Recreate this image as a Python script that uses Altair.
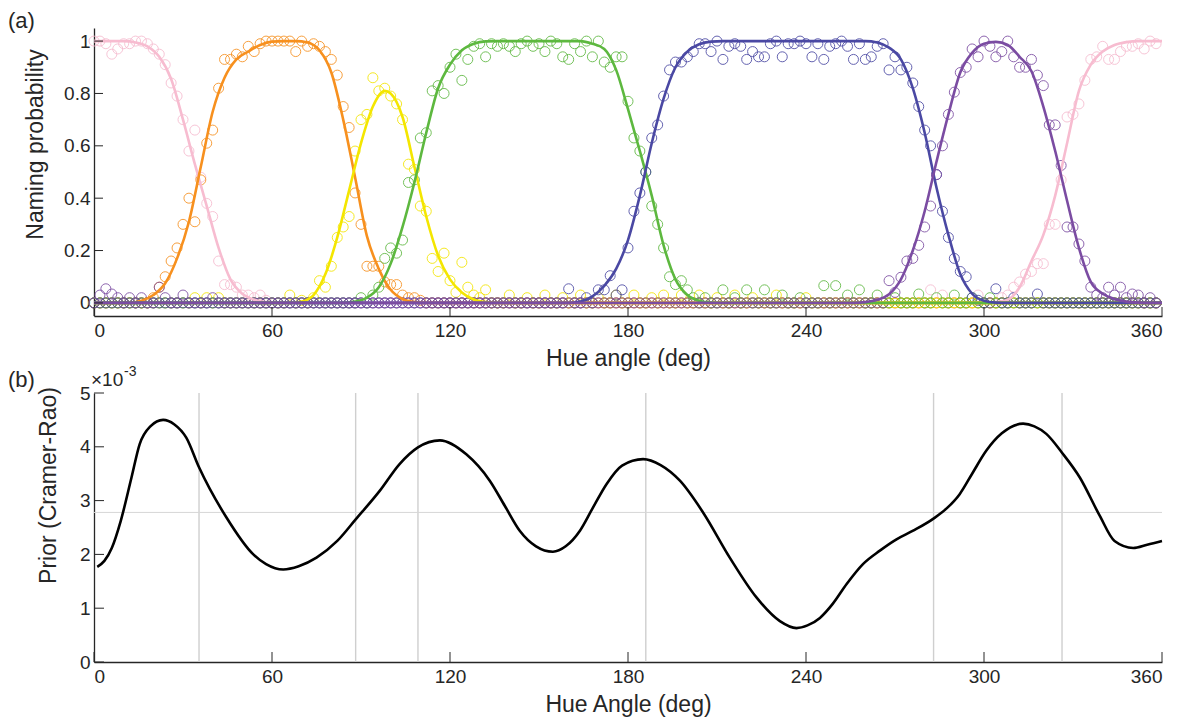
import altair as alt
import pandas as pd

# ---------------- data ----------------
HUE_TICKS = [0, 60, 120, 180, 240, 300, 360]
PROB_TICKS = [0, 0.2, 0.4, 0.6, 0.8, 1]
PRIOR_TICKS = [0, 1, 2, 3, 4, 5]

CATEGORIES = ["pink", "orange", "yellow", "green", "blue", "purple"]
COLORS = ["#F7BCD0", "#F7901E", "#F4E600", "#5DB83F", "#4A48A3", "#7B4CA2"]

# hue samples of the naming experiment (every 2 deg); unlisted samples read as 0
SAMPLE_HUES = list(range(0, 360, 2))

PINK_PTS = {0: 1.0, 2: 1.0, 4: 0.99, 6: 0.95, 8: 0.97, 10: 0.99, 12: 0.99, 14: 1.0, 16: 1.0,
            18: 0.99, 20: 0.97, 22: 0.95, 24: 0.91, 26: 0.84, 28: 0.79, 30: 0.70, 32: 0.58,
            34: 0.66, 36: 0.48, 38: 0.38, 40: 0.33, 42: 0.16, 44: 0.07, 46: 0.07, 48: 0.06,
            50: 0.03, 52: 0.03, 54: 0.02, 56: 0.03, 58: 0.01, 282: 0.05, 286: 0.03, 298: 0.03,
            306: 0.02, 308: 0.03, 310: 0.06, 312: 0.08, 314: 0.11, 316: 0.12, 318: 0.15,
            320: 0.15, 322: 0.30, 324: 0.30, 326: 0.47, 328: 0.71, 330: 0.72, 332: 0.76,
            334: 0.85, 336: 0.93, 338: 0.94, 340: 0.98, 342: 0.93, 344: 0.93, 346: 0.96,
            348: 0.98, 350: 0.98, 352: 0.99, 354: 0.97, 356: 1.0, 358: 0.99}
ORANGE_PTS = {20: 0.02, 22: 0.06, 24: 0.10, 26: 0.16, 28: 0.21, 30: 0.30, 32: 0.40, 34: 0.31,
              36: 0.47, 38: 0.61, 40: 0.66, 42: 0.82, 44: 0.93, 46: 0.93, 48: 0.95, 50: 0.94,
              52: 0.98, 54: 0.96, 56: 0.99, 58: 1.0, 60: 1.0, 62: 1.0, 64: 1.0, 66: 1.0,
              68: 0.96, 70: 1.0, 72: 0.98, 74: 0.99, 76: 0.98, 78: 0.96, 80: 0.93, 82: 0.87,
              84: 0.75, 86: 0.67, 88: 0.42, 90: 0.30, 92: 0.14, 94: 0.14, 96: 0.14, 98: 0.08,
              100: 0.07, 102: 0.07, 104: 0.03, 106: 0.02, 108: 0.02, 110: 0.01}
YELLOW_PTS = {34: 0.02, 38: 0.02, 42: 0.02, 66: 0.03, 70: 0.01, 74: 0.02, 76: 0.085, 78: 0.06,
              80: 0.14, 82: 0.25, 84: 0.29, 86: 0.33, 88: 0.58, 90: 0.70, 92: 0.72, 94: 0.86,
              96: 0.81, 98: 0.82, 100: 0.79, 102: 0.76, 104: 0.70, 106: 0.53, 108: 0.51,
              110: 0.37, 112: 0.35, 114: 0.17, 116: 0.12, 118: 0.19, 120: 0.085, 122: 0.04,
              124: 0.155, 126: 0.06, 128: 0.03, 130: 0.02, 132: 0.05, 140: 0.03, 146: 0.02,
              152: 0.03, 158: 0.02, 164: 0.03, 170: 0.02, 176: 0.03, 182: 0.03, 188: 0.02,
              192: 0.03, 198: 0.03, 204: 0.03, 210: 0.02, 216: 0.03, 222: 0.02, 230: 0.03,
              240: 0.02}
GREEN_PTS = {90: 0.02, 94: 0.03, 96: 0.06, 98: 0.17, 100: 0.21, 102: 0.19, 104: 0.24, 106: 0.46,
             108: 0.47, 110: 0.63, 112: 0.65, 114: 0.81, 116: 0.83, 118: 0.80, 120: 0.90,
             122: 0.95, 124: 0.85, 126: 0.93, 128: 0.98, 130: 0.99, 132: 0.94, 134: 0.99,
             136: 0.98, 138: 0.99, 140: 0.98, 142: 0.96, 144: 0.99, 146: 1.0, 148: 0.98,
             150: 0.99, 152: 0.96, 154: 1.0, 156: 0.99, 158: 0.94, 160: 0.93, 162: 0.99,
             164: 0.96, 166: 1.0, 168: 0.94, 170: 1.0, 172: 0.92, 174: 0.90, 176: 0.94,
             178: 0.94, 180: 0.77, 182: 0.63, 184: 0.58, 186: 0.50, 188: 0.37, 190: 0.30,
             192: 0.21, 194: 0.10, 196: 0.07, 198: 0.085, 200: 0.05, 202: 0.02, 206: 0.02,
             212: 0.05, 216: 0.02, 220: 0.05, 226: 0.05, 232: 0.03, 238: 0.02, 246: 0.066,
             250: 0.066, 254: 0.03, 258: 0.05, 264: 0.03, 270: 0.02, 278: 0.034, 284: 0.02,
             290: 0.03, 296: 0.02, 302: 0.02}
BLUE_PTS = {160: 0.054, 166: 0.02, 170: 0.05, 172: 0.05, 174: 0.104, 176: 0.03, 178: 0.05,
            180: 0.21, 182: 0.35, 184: 0.42, 186: 0.50, 188: 0.63, 190: 0.68, 192: 0.79,
            194: 0.89, 196: 0.92, 198: 0.92, 200: 0.94, 202: 0.96, 204: 0.99, 206: 0.99,
            208: 0.96, 210: 1.0, 212: 0.93, 214: 0.98, 216: 0.99, 218: 0.98, 220: 0.93,
            222: 0.96, 224: 0.94, 226: 0.94, 228: 0.99, 230: 1.0, 232: 0.94, 234: 0.99,
            236: 0.99, 238: 1.0, 240: 0.99, 242: 0.94, 244: 0.99, 246: 0.93, 248: 0.98,
            250: 0.99, 252: 1.0, 254: 0.98, 256: 0.93, 258: 0.99, 260: 0.93, 262: 0.94,
            264: 0.98, 266: 0.99, 268: 0.89, 270: 0.94, 272: 0.89, 274: 0.90, 276: 0.84,
            278: 0.75, 280: 0.66, 282: 0.60, 284: 0.49, 286: 0.35, 288: 0.25, 290: 0.17,
            292: 0.12, 294: 0.10, 296: 0.02, 298: 0.01, 304: 0.054, 310: 0.02, 318: 0.034}
PURPLE_PTS = {2: 0.03, 4: 0.054, 6: 0.034, 8: 0.02, 12: 0.02, 16: 0.02, 22: 0.06, 24: 0.02,
              30: 0.03, 40: 0.02, 268: 0.085, 270: 0.04, 272: 0.098, 274: 0.16, 276: 0.17,
              278: 0.22, 280: 0.29, 282: 0.37, 284: 0.49, 286: 0.60, 288: 0.72, 290: 0.805,
              292: 0.88, 294: 0.90, 296: 0.97, 298: 0.94, 300: 1.0, 302: 0.98, 304: 0.94,
              306: 0.96, 308: 1.0, 310: 0.94, 312: 0.90, 314: 0.90, 316: 0.93, 318: 0.87,
              320: 0.83, 322: 0.68, 324: 0.68, 326: 0.525, 328: 0.29, 330: 0.29, 332: 0.225,
              334: 0.16, 336: 0.06, 338: 0.03, 340: 0.02, 342: 0.06, 344: 0.03, 346: 0.06,
              348: 0.02, 350: 0.034, 352: 0.03, 356: 0.02}

# fitted naming curves (hue: probability)
PINK_FIT = {0: 1.0, 10: 1.0, 14: 0.995, 18: 0.98, 22: 0.94, 26: 0.855, 30: 0.70, 34: 0.53,
            38: 0.37, 42: 0.21, 46: 0.09, 50: 0.035, 54: 0.012, 58: 0.003, 62: 0.0, 300: 0.0,
            304: 0.003, 308: 0.012, 312: 0.06, 316: 0.16, 320: 0.26, 324: 0.41, 328: 0.61,
            332: 0.81, 336: 0.91, 340: 0.96, 344: 0.985, 348: 0.996, 352: 1.0, 360: 1.0}
ORANGE_FIT = {0: 0.0, 12: 0.0, 16: 0.008, 20: 0.03, 24: 0.075, 28: 0.17, 32: 0.31, 36: 0.52,
              40: 0.73, 44: 0.86, 48: 0.93, 52: 0.96, 56: 0.985, 60: 0.998, 64: 1.0, 68: 1.0,
              72: 0.995, 76: 0.965, 80: 0.88, 84: 0.70, 88: 0.48, 92: 0.255, 96: 0.13,
              100: 0.05, 104: 0.015, 108: 0.003, 112: 0.0, 360: 0.0}
YELLOW_FIT = {0: 0.0, 66: 0.0, 70: 0.005, 74: 0.03, 78: 0.11, 82: 0.25, 86: 0.43, 90: 0.61,
              94: 0.75, 98: 0.81, 100: 0.80, 104: 0.71, 108: 0.52, 112: 0.33, 116: 0.18,
              120: 0.09, 124: 0.04, 128: 0.013, 132: 0.003, 136: 0.0, 360: 0.0}
GREEN_FIT = {0: 0.0, 84: 0.0, 88: 0.005, 92: 0.02, 96: 0.06, 100: 0.15, 104: 0.29, 108: 0.46,
             112: 0.65, 116: 0.82, 120: 0.91, 124: 0.965, 128: 0.99, 132: 0.999, 136: 1.0,
             164: 1.0, 168: 0.99, 172: 0.97, 176: 0.89, 180: 0.74, 184: 0.58, 188: 0.41,
             192: 0.22, 196: 0.09, 200: 0.03, 204: 0.008, 208: 0.001, 212: 0.0, 360: 0.0}
BLUE_FIT = {0: 0.0, 160: 0.0, 164: 0.005, 168: 0.025, 172: 0.065, 176: 0.13, 180: 0.24,
            184: 0.41, 188: 0.61, 192: 0.78, 196: 0.90, 200: 0.96, 204: 0.988, 208: 0.998,
            212: 1.0, 260: 1.0, 264: 0.995, 268: 0.975, 272: 0.93, 276: 0.82, 280: 0.65,
            284: 0.44, 288: 0.26, 292: 0.11, 296: 0.035, 300: 0.008, 304: 0.001, 308: 0.0,
            360: 0.0}
PURPLE_FIT = {0: 0.0, 256: 0.0, 260: 0.003, 264: 0.012, 268: 0.033, 272: 0.09, 276: 0.20,
              280: 0.35, 284: 0.54, 288: 0.72, 292: 0.88, 296: 0.955, 300: 0.99, 304: 0.997,
              308: 0.985, 312: 0.94, 316: 0.885, 320: 0.75, 324: 0.58, 328: 0.39, 332: 0.21,
              336: 0.08, 340: 0.035, 344: 0.015, 348: 0.005, 352: 0.001, 356: 0.0, 360: 0.0}

SCATTER = [PINK_PTS, ORANGE_PTS, YELLOW_PTS, GREEN_PTS, BLUE_PTS, PURPLE_PTS]
FITS = [PINK_FIT, ORANGE_FIT, YELLOW_FIT, GREEN_FIT, BLUE_FIT, PURPLE_FIT]

# panel (b): prior (values in units of 1e-3)
PRIOR_HUE = [1.1, 3.5, 6.0, 9.0, 12.6, 15.4, 19.0, 23.3, 27.0, 31.1, 35.4, 44.6, 53.7, 58.0,
             63.8, 69.0, 75.0, 82.0, 88.2, 96.3, 103.0, 109.2, 116.6, 125.5, 133.4, 138.5,
             143.5, 149.0, 154.7, 159.0, 163.8, 168.0, 172.8, 178.0, 185.1, 191.0, 197.5,
             205.3, 214.3, 223.3, 231.2, 236.8, 240.5, 244.7, 249.0, 253.7, 259.2, 264.9,
             270.5, 276.1, 283.1, 287.5, 291.8, 296.0, 300.8, 306.0, 313.2, 317.0, 321.0,
             326.3, 332.3, 339.0, 344.0, 350.3, 355.0, 360.0]
PRIOR_VAL = [1.77, 1.88, 2.12, 2.62, 3.42, 4.05, 4.38, 4.50, 4.42, 4.17, 3.62, 2.69, 2.00, 1.82,
             1.72, 1.78, 1.94, 2.25, 2.65, 3.18, 3.68, 3.99, 4.12, 3.86, 3.37, 2.90,
             2.44, 2.15, 2.05, 2.15, 2.44, 2.85, 3.31, 3.65, 3.77, 3.66, 3.37,
             2.78, 1.94, 1.20, 0.76, 0.63, 0.68, 0.82, 1.08, 1.45, 1.82, 2.07,
             2.28, 2.44, 2.67, 2.86, 3.12, 3.50, 3.93, 4.25, 4.43, 4.38, 4.24,
             3.89, 3.43, 2.72, 2.25, 2.12, 2.18, 2.25]
BOUNDARIES = [35.4, 88.2, 109.2, 186.0, 283.0, 326.3]
UNIFORM = [2.78]

# ---------------- layout / style ----------------
W = 1068
HA = 288
HB = 269
INK = "#262626"
FONT = "Liberation Sans"

x_scale = alt.Scale(domain=[0, 360], nice=False, zero=False)
ya_scale = alt.Scale(domain=[-0.05, 1.05], nice=False, zero=False)
yb_scale = alt.Scale(domain=[0, 5], nice=False, zero=False)


def x_axis(title):
    return alt.Axis(values=HUE_TICKS, format="d", ticks=False, grid=False, labelPadding=5,
                    title=title, titleY=31, titleBaseline="top", titleAlign="center")


XA = alt.X("hue:Q", scale=x_scale, axis=x_axis("Hue angle (deg)"))
YA = alt.Y("p:Q", scale=ya_scale,
           axis=alt.Axis(values=PROB_TICKS, format="~g", ticks=False, grid=False,
                         labelPadding=4, title="Naming probability", titleAngle=270,
                         titleAlign="center", titleBaseline="alphabetic",
                         titleX=-52, titleY=116))
XB = alt.X("hue:Q", scale=x_scale, axis=x_axis("Hue Angle (deg)"))
YB = alt.Y("v:Q", scale=yb_scale,
           axis=alt.Axis(values=PRIOR_TICKS, format="d", ticks=False, grid=False,
                         labelPadding=4, title="Prior (Cramer-Rao)", titleAngle=270,
                         titleAlign="center", titleBaseline="alphabetic",
                         titleX=-39, titleY=92))

color_scale = alt.Scale(domain=CATEGORIES, range=COLORS)

# ---------- panel (a) ----------
rows = []
for cat, pts in zip(CATEGORIES, SCATTER):
    for h in SAMPLE_HUES:
        rows.append({"hue": h, "p": pts.get(h, 0.0), "cat": cat})
scatter_df = pd.DataFrame(rows)

scatter = alt.Chart(scatter_df).mark_point(
    shape="circle", filled=False, size=100, strokeWidth=1, opacity=0.85
).encode(x=XA, y=YA, color=alt.Color("cat:N", scale=color_scale, legend=None))

fit_layers = []
for cat, col, fit in zip(CATEGORIES, COLORS, FITS):
    df = pd.DataFrame({"hue": list(fit.keys()), "p": list(fit.values())})
    fit_layers.append(
        alt.Chart(df).mark_line(color=col, strokeWidth=2.6, interpolate="monotone")
        .encode(x=XA, y=YA)
    )

xt_a = alt.Chart(pd.DataFrame({"hue": HUE_TICKS})).mark_rule(color=INK, strokeWidth=1).encode(
    x=XA, y=alt.value(HA), y2=alt.value(HA - 9))
yt_a = alt.Chart(pd.DataFrame({"p": PROB_TICKS})).mark_rule(color=INK, strokeWidth=1).encode(
    y=YA, x=alt.value(0), x2=alt.value(9))
lab_a = alt.Chart(pd.DataFrame({"t": ["(a)"]})).mark_text(
    align="left", baseline="top", fontSize=22, color=INK, font=FONT
).encode(text="t:N", x=alt.value(-86), y=alt.value(-17))

panel_a = alt.layer(scatter, *fit_layers, xt_a, yt_a, lab_a).properties(width=W, height=HA)

# ---------- panel (b) ----------
prior_df = pd.DataFrame({"hue": PRIOR_HUE, "v": PRIOR_VAL})
bnd = alt.Chart(pd.DataFrame({"hue": BOUNDARIES})).mark_rule(
    color="#cfcfcf", strokeWidth=1.4).encode(x=XB)
uni = alt.Chart(pd.DataFrame({"v": UNIFORM})).mark_rule(
    color="#d6d6d6", strokeWidth=1).encode(y=YB)
prior = alt.Chart(prior_df).mark_line(color="black", strokeWidth=2.6,
                                      interpolate="monotone").encode(x=XB, y=YB)
xt_b = alt.Chart(pd.DataFrame({"hue": HUE_TICKS})).mark_rule(color=INK, strokeWidth=1).encode(
    x=XB, y=alt.value(HB), y2=alt.value(HB - 10))
yt_b = alt.Chart(pd.DataFrame({"v": PRIOR_TICKS})).mark_rule(color=INK, strokeWidth=1).encode(
    y=YB, x=alt.value(0), x2=alt.value(10))
lab_b = alt.Chart(pd.DataFrame({"t": ["(b)"]})).mark_text(
    align="left", baseline="top", fontSize=22, color=INK, font=FONT
).encode(text="t:N", x=alt.value(-86), y=alt.value(-23))
exp_base = alt.Chart(pd.DataFrame({"t": ["×10"]})).mark_text(
    align="left", baseline="alphabetic", fontSize=19, color=INK, font=FONT
).encode(text="t:N", x=alt.value(-3), y=alt.value(-7))
exp_sup = alt.Chart(pd.DataFrame({"t": ["-3"]})).mark_text(
    align="left", baseline="alphabetic", fontSize=14, color=INK, font=FONT
).encode(text="t:N", x=alt.value(30), y=alt.value(-17))

panel_b = alt.layer(bnd, uni, prior, xt_b, yt_b, lab_b, exp_base, exp_sup).properties(
    width=W, height=HB)

chart = alt.vconcat(panel_a, panel_b, spacing=77, bounds="flush").properties(
    padding={"left": 8, "top": 10, "right": 10, "bottom": 5}
).configure_view(stroke=None).configure_axis(
    labelFont=FONT, titleFont=FONT, labelFontSize=19, titleFontSize=23,
    labelColor=INK, titleColor=INK, titleFontWeight="normal",
    domainColor=INK, domainWidth=1.3
).configure_text(font=FONT)

chart.save("out.html", embed_options={"renderer": "svg", "actions": False})
